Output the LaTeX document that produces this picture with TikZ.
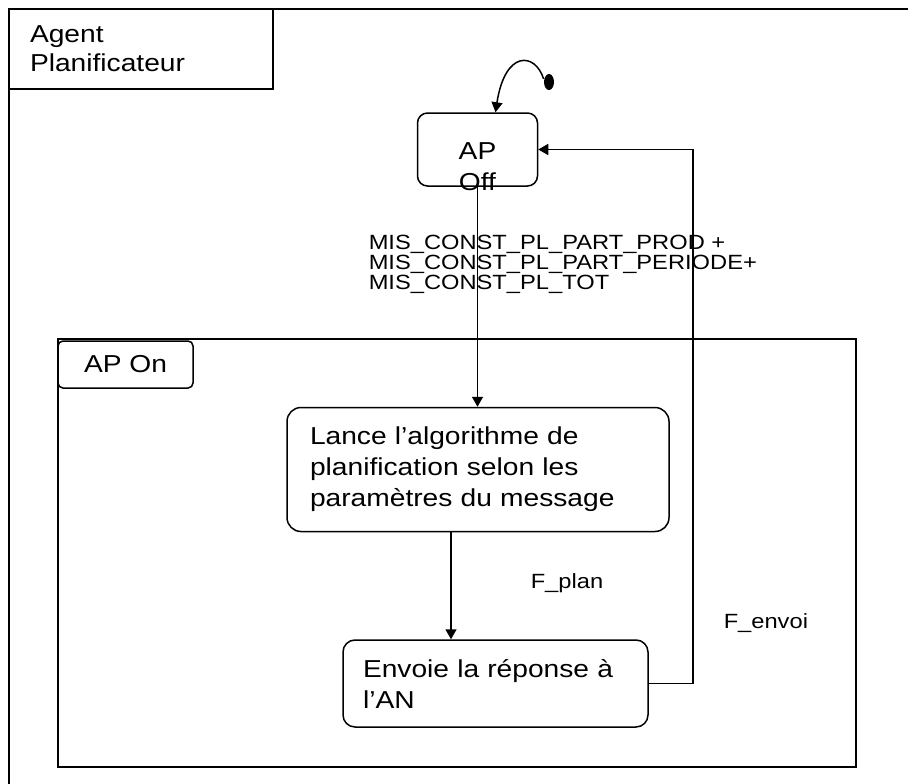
\documentclass[tikz,border=0pt]{standalone}
\usepackage{fontspec}
\setmainfont[FakeStretch=1.15]{Liberation Sans}
\usetikzlibrary{arrows.meta,shapes.geometric}

\begin{document}
\begin{tikzpicture}[
    x=1pt,y=-1pt,
    line width=1.5pt,
    grand/.style={font=\fontsize{24.5}{31}\selectfont},
    etat/.style={draw,grand,rounded corners=10pt,inner sep=0pt},
    tache/.style={etat,rounded corners=14pt,align=left},
    garde/.style={inner sep=0pt,align=left,font=\fontsize{20.6}{20}\selectfont},
    fleche/.style={-{Triangle[length=10pt,width=11pt]}}
  ]
  \useasboundingbox (0,0) rectangle (908,784);
  % cadre de l'agent
  \draw (908,9) -| (9,784);
  \node[draw,grand,font=\fontsize{24.5}{29}\selectfont,inner sep=0pt,minimum width=264pt,minimum height=80pt,text width=222pt,align=left] (agent) at (141,49) {Agent\\Planificateur};
  % etats
  \node[ellipse,fill,inner sep=0pt,minimum width=10pt,minimum height=16pt] (debut) at (549,82) {};
  \node[etat,minimum width=120pt,minimum height=73pt] (apoff) at (477.5,149.5) {};
  \node[grand,align=center,inner sep=0pt] (apofftxt) at (477.5,167) {AP\\Off};
  \node[draw,minimum width=798pt,minimum height=428pt] (aponcadre) at (457,553) {};
  \node[etat,rounded corners=5pt,fill=white,minimum width=135pt,minimum height=47pt] (apon) at (125.5,364.5) {AP On};
  \node[tache,minimum width=382pt,minimum height=124pt,text width=336pt] (lance) at (478,469.5) {Lance l’algorithme de\\planification selon les\\paramètres du message};
  \node[tache,rounded corners=12pt,minimum width=305pt,minimum height=87pt,text width=265pt] (envoie) at (495.5,683.5) {Envoie la réponse à\\l’AN};
  % gardes
  \node[garde,anchor=north west] (misconst) at (368,234) {MIS\_CONST\_PL\_PART\_PROD +\\MIS\_CONST\_PL\_PART\_PERIODE+\\MIS\_CONST\_PL\_TOT};
  \node[garde,anchor=base west] (fplan) at (530,588) {F\_plan};
  \node[garde,anchor=base west] (fenvoi) at (723,628) {F\_envoi};
  % transitions
  \draw[fleche] (debut.150) .. controls (535,52) and (505,50) .. ([xshift=18pt]apoff.north);
  \draw[fleche] (apoff.south) -- (apoff.south |- lance.north);
  \draw[fleche] ([xshift=-27pt]lance.south) -- ([xshift=-27pt]lance.south |- envoie.north);
  \draw[fleche] (envoie.east) -- ++(44,0) |- (apoff.east);
\end{tikzpicture}
\end{document}
